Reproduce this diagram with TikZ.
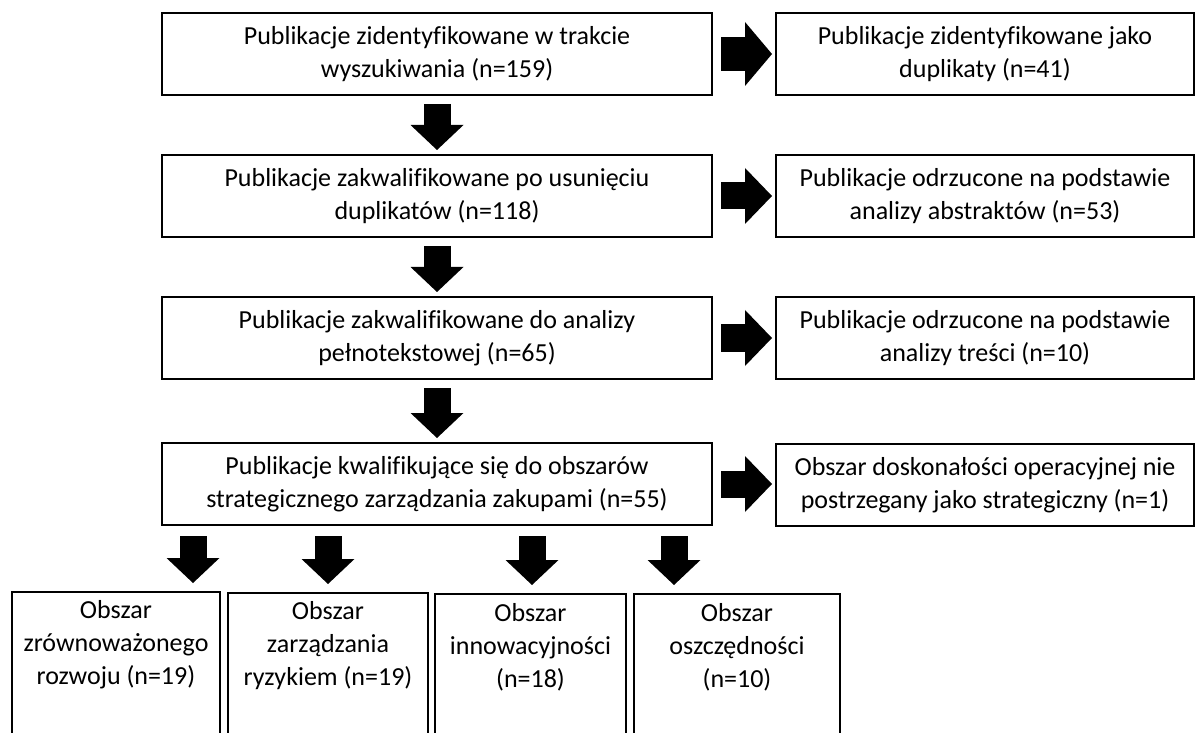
\documentclass[tikz,border=0pt]{standalone}
\usepackage{fontspec}
\setmainfont{Carlito}[Ligatures=NoCommon]
\usetikzlibrary{arrows.meta}
\begin{document}
\begin{tikzpicture}[x=0.5pt,y=-0.5pt,
  box/.style={draw, line width=1pt, align=center, inner sep=0pt,
    font=\fontsize{13}{16.5}\selectfont},
  mainbox/.style={box, minimum width=275pt, minimum height=41pt},
  sidebox/.style={box, minimum width=209pt, minimum height=41pt},
  areabox/.style={draw, line width=1pt, inner sep=0pt, minimum height=74pt},
  areatext/.style={align=center, inner sep=0pt, font=\fontsize{13}{16.5}\selectfont},
  downarrow/.style={line width=13.5pt,
    -{Triangle[width=26.5pt,length=12.5pt,line width=0pt]},
    shorten <=4pt, shorten >=2pt},
  splitarrow/.style={downarrow, shorten <=5pt, shorten >=4pt},
  rightarrow/.style={line width=13.5pt,
    -{Triangle[width=28pt,length=13.5pt,line width=0pt]},
    shorten <=4pt, shorten >=1.5pt},
  bigrightarrow/.style={line width=17pt,
    -{Triangle[width=32pt,length=13.5pt,line width=0pt]},
    shorten <=4pt, shorten >=1.5pt}
]
\useasboundingbox (0,0) rectangle (1196,733);
\fill[white] (0,0) rectangle (1196,733);

% main column
\node[mainbox] (b1) at (437,54)  {Publikacje zidentyfikowane w trakcie\\wyszukiwania (n=159)};
\node[mainbox] (b2) at (437,196) {Publikacje zakwalifikowane po usunięciu\\duplikatów (n=118)};
\node[mainbox] (b3) at (437,338) {Publikacje zakwalifikowane do analizy\\pełnotekstowej (n=65)};
\node[mainbox] (b4) at (437,484) {Publikacje kwalifikujące się do obszarów\\strategicznego zarządzania zakupami (n=55)};

% excluded records
\node[sidebox] (r1) at (985,54)  {Publikacje zidentyfikowane jako\\duplikaty (n=41)};
\node[sidebox] (r2) at (985,196) {Publikacje odrzucone na podstawie\\analizy abstraktów (n=53)};
\node[sidebox] (r3) at (985,338) {Publikacje odrzucone na podstawie\\analizy treści (n=10)};
\node[sidebox] (r4) at (985,485) {Obszar doskonałości operacyjnej nie\\postrzegany jako strategiczny (n=1)};

% thematic areas (boxes run past the lower edge)
\node[areabox, minimum width=104pt]  (aA) at (116,666)   {};
\node[areabox, minimum width=100pt]  (aB) at (328,667)   {};
\node[areabox, minimum width=95.5pt] (aC) at (530.5,668) {};
\node[areabox, minimum width=103pt]  (aD) at (737,668)   {};
\node[areatext] (tA) at (116,645)   {Obszar\\zrównoważonego\\rozwoju (n=19)};
\node[areatext] (tB) at (328,646)   {Obszar\\zarządzania\\ryzykiem (n=19)};
\node[areatext] (tC) at (530.5,647) {Obszar\\innowacyjności\\(n=18)};
\node[areatext] (tD) at (737,647)   {Obszar\\oszczędności\\(n=10)};

% flow downwards
\draw[downarrow] (b1) -- (b2);
\draw[downarrow] (b2) -- (b3);
\draw[downarrow] (b3) -- (b4);

% exclusions to the right
\draw[bigrightarrow] (b1) -- (r1);
\draw[rightarrow] (b2) -- (r2);
\draw[rightarrow] (b3) -- (r3);
\draw[rightarrow] (b4.east) -- (r4.west |- b4.east);

% split into areas
\coordinate (s1) at (193,0);
\coordinate (s2) at (328,0);
\coordinate (s3) at (532,0);
\coordinate (s4) at (674,0);
\draw[splitarrow] (b4.south -| s1) -- (aA.north -| s1);
\draw[splitarrow] (b4.south -| s2) -- (aB.north -| s2);
\draw[splitarrow] (b4.south -| s3) -- (aC.north -| s3);
\draw[splitarrow] (b4.south -| s4) -- (aD.north -| s4);
\end{tikzpicture}
\end{document}
